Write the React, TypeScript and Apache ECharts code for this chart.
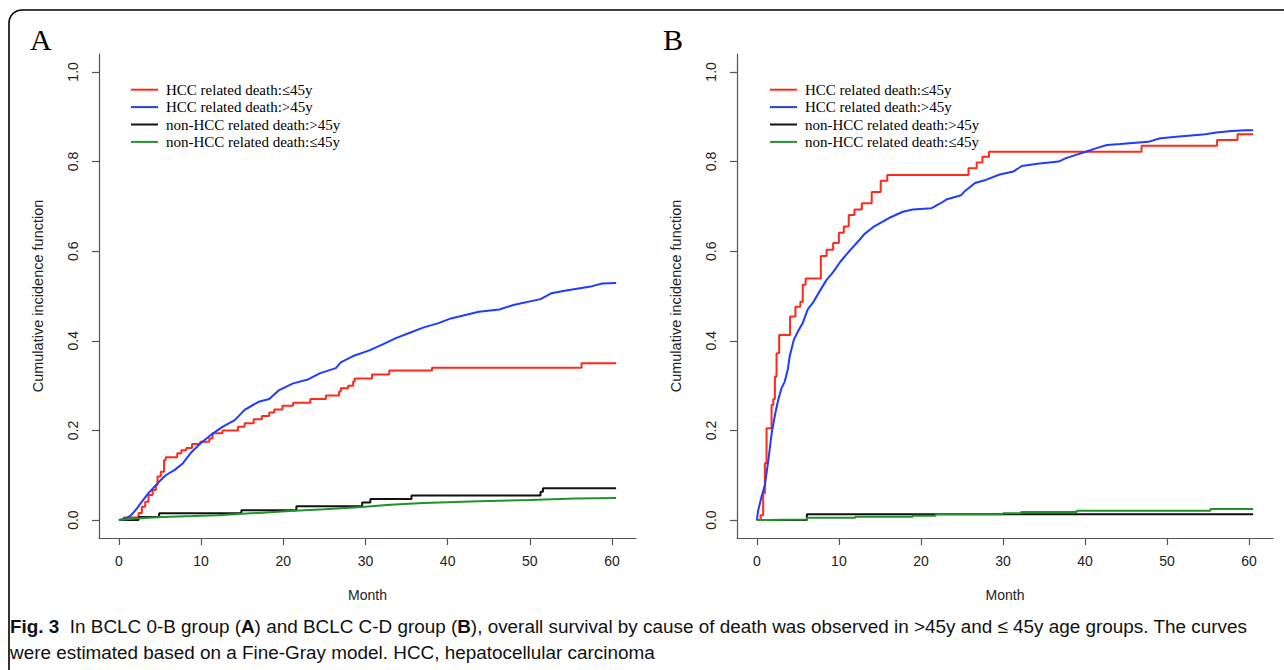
import React, { useEffect, useRef } from "react";
import * as echarts from "echarts";

// ---------- data ----------
const xTicks = [0, 10, 20, 30, 40, 50, 60];
const yTicks = [0, 0.2, 0.4, 0.6, 0.8, 1.0];
const seriesNames = [
  "HCC related death:≤45y",
  "HCC related death:>45y",
  "non-HCC related death:>45y",
  "non-HCC related death:≤45y",
];
const seriesColors = ["#ff2a1a", "#1f3cff", "#111111", "#23912a"];

// Panel A (BCLC 0-B)
const aRedT = [0, 0.6, 2.4, 2.8, 3.2, 3.6, 4.1, 4.5, 4.7, 5.1, 5.5, 5.7, 7.1, 7.6, 8.2, 8.9, 9.9, 11.0, 11.4, 12.6, 14.5, 15.3, 16.4, 17.4, 18.3, 18.9, 19.9, 21.2, 23.3, 25.2, 26.8, 27.0, 27.9, 28.5, 28.7, 30.8, 32.9, 38.1, 56.3, 60.5];
const aRedF = [0, 0.006, 0.016, 0.03, 0.041, 0.056, 0.067, 0.078, 0.097, 0.108, 0.134, 0.14, 0.149, 0.156, 0.161, 0.17, 0.175, 0.182, 0.194, 0.2, 0.208, 0.216, 0.225, 0.232, 0.24, 0.247, 0.255, 0.262, 0.27, 0.278, 0.287, 0.294, 0.3, 0.309, 0.316, 0.325, 0.334, 0.34, 0.35, 0.35];
const aBlueT = [0, 0.9, 1.5, 2.2, 2.8, 3.6, 4.7, 5.7, 6.8, 7.8, 8.7, 9.9, 11.2, 12.6, 14.1, 15.3, 17.0, 18.3, 19.5, 21.2, 22.9, 24.5, 26.4, 27.0, 28.5, 30.4, 32.1, 33.7, 35.4, 37.1, 38.8, 40.4, 43.8, 46.3, 48.0, 51.3, 52.6, 54.6, 57.6, 58.8, 60.5];
const aBlueF = [0, 0.004, 0.011, 0.026, 0.041, 0.06, 0.082, 0.1, 0.112, 0.127, 0.149, 0.171, 0.19, 0.208, 0.223, 0.246, 0.264, 0.27, 0.29, 0.305, 0.313, 0.328, 0.339, 0.352, 0.366, 0.378, 0.392, 0.406, 0.418, 0.43, 0.439, 0.45, 0.465, 0.47, 0.48, 0.493, 0.506, 0.513, 0.522, 0.528, 0.529];
const aBlackT = [0, 2.4, 4.9, 14.9, 21.6, 29.6, 30.6, 35.6, 51.3, 51.6, 60.5];
const aBlackF = [0, 0.007, 0.015, 0.022, 0.031, 0.039, 0.047, 0.055, 0.063, 0.071, 0.071];
const aGreenT = [0, 2.4, 5.3, 9.0, 12.0, 16.0, 20.8, 25.0, 29.6, 33.0, 37.1, 43.8, 50.0, 55.5, 60.5];
const aGreenF = [0, 0.004, 0.007, 0.009, 0.011, 0.015, 0.02, 0.024, 0.029, 0.034, 0.038, 0.042, 0.045, 0.048, 0.049];

// Panel B (BCLC C-D)
const bRedT = [0, 0.45, 0.77, 0.98, 1.18, 1.79, 2.0, 2.2, 2.4, 2.72, 4.05, 4.7, 5.3, 5.6, 5.95, 7.8, 8.5, 9.3, 10.0, 10.6, 11.2, 11.9, 12.8, 14.0, 15.1, 15.9, 25.8, 26.8, 27.5, 28.3, 46.9, 56.1, 58.6, 60.5];
const bRedF = [0, 0.011, 0.06, 0.127, 0.205, 0.257, 0.27, 0.32, 0.372, 0.413, 0.454, 0.476, 0.487, 0.525, 0.539, 0.589, 0.603, 0.618, 0.641, 0.655, 0.681, 0.693, 0.707, 0.732, 0.757, 0.77, 0.785, 0.798, 0.811, 0.822, 0.835, 0.848, 0.861, 0.861];
const bBlueT = [0, 0.17, 0.57, 0.98, 1.4, 1.8, 2.2, 2.6, 3.0, 3.4, 3.8, 4.0, 4.5, 5.1, 5.6, 6.2, 6.8, 7.7, 8.5, 9.2, 10.2, 11.4, 12.5, 13.1, 14.2, 16.1, 17.8, 19.0, 21.3, 22.4, 23.2, 24.9, 25.3, 26.6, 27.9, 29.6, 31.3, 32.3, 34.2, 36.8, 37.6, 38.9, 40.1, 41.4, 42.7, 44.3, 47.7, 49.2, 51.5, 54.7, 56.0, 57.9, 59.5, 60.5];
const bBlueF = [0, 0.022, 0.052, 0.078, 0.134, 0.193, 0.234, 0.268, 0.294, 0.309, 0.339, 0.365, 0.402, 0.424, 0.44, 0.47, 0.484, 0.512, 0.536, 0.551, 0.577, 0.603, 0.625, 0.638, 0.654, 0.674, 0.688, 0.693, 0.696, 0.707, 0.716, 0.725, 0.733, 0.752, 0.759, 0.771, 0.778, 0.79, 0.795, 0.8, 0.807, 0.815, 0.822, 0.83, 0.837, 0.839, 0.844, 0.852, 0.856, 0.861, 0.865, 0.868, 0.87, 0.87];
const bBlackT = [0, 6.1, 60.5];
const bBlackF = [0, 0.013, 0.013];
const bGreenT = [0, 1.2, 6.1, 12.0, 19.0, 21.8, 30.0, 32.2, 39.0, 55.3, 60.5];
const bGreenF = [0, 0.0015, 0.005, 0.0074, 0.0097, 0.013, 0.015, 0.018, 0.021, 0.0245, 0.0245];

const captionLine1 =
  "{b|Fig. 3}  In BCLC 0-B group ({b|A}) and BCLC C-D group ({b|B}), overall survival by cause of death was observed in >45y and ≤ 45y age groups. The curves";
const captionLine2 = "were estimated based on a Fine-Gray model. HCC, hepatocellular carcinoma";

// ---------- helpers ----------
const pairs = (t: number[], f: number[]) => t.map((v, i) => [v, f[i]]);
const SANS = "'Liberation Sans', Arial, sans-serif";
const SERIF = "'Liberation Serif', 'Times New Roman', serif";
const CAP = "'Liberation Sans', sans-serif";
const axisColor = "#555";

function makeX(gridIndex: number) {
  return {
    type: "value",
    gridIndex,
    min: -2.42,
    max: 62.92,
    name: "Month",
    nameLocation: "middle",
    nameGap: 50,
    nameTextStyle: { fontFamily: SANS, fontSize: 14, color: "#222" },
    axisLine: { show: true, onZero: false, lineStyle: { color: axisColor, width: 1.2 } },
    axisTick: { show: true, length: 7, customValues: xTicks, lineStyle: { color: axisColor, width: 1.2 } },
    axisLabel: { customValues: xTicks, margin: 16, fontFamily: SANS, fontSize: 14, color: "#222" },
    splitLine: { show: false },
  };
}
function makeY(gridIndex: number) {
  return {
    type: "value",
    gridIndex,
    min: -0.04,
    max: 1.04,
    name: "Cumulative incidence function",
    nameLocation: "middle",
    nameGap: 54,
    nameRotate: 90,
    nameTextStyle: { fontFamily: SANS, fontSize: 14.5, color: "#222" },
    axisLine: { show: true, onZero: false, lineStyle: { color: axisColor, width: 1.2 } },
    axisTick: { show: true, length: 7, customValues: yTicks, lineStyle: { color: axisColor, width: 1.2 } },
    axisLabel: {
      customValues: yTicks,
      rotate: 90,
      margin: 19,
      fontFamily: SANS,
      fontSize: 14,
      color: "#222",
      formatter: (v: number) => v.toFixed(1),
    },
    splitLine: { show: false },
  };
}
function line(idx: number, name: string, color: string, data: number[][], step: any) {
  return {
    type: "line",
    name,
    xAxisIndex: idx,
    yAxisIndex: idx,
    data,
    step,
    symbol: "none",
    showSymbol: false,
    color,
    lineStyle: { color, width: 2 },
    itemStyle: { color },
    silent: true,
  };
}

export default function App() {
  const ref = useRef<HTMLDivElement>(null);
  useEffect(() => {
    if (!ref.current) return;
    const chart = echarts.init(ref.current, undefined, { renderer: "svg" });
    const legend = [131, 770].map((left) => ({
      data: seriesNames,
      orient: "vertical",
      left,
      top: 81,
      padding: 0,
      itemWidth: 27,
      itemHeight: 2,
      itemGap: 0,
      icon: "rect",
      selectedMode: false,
      textStyle: { fontFamily: SERIF, fontSize: 15, color: "#000", lineHeight: 17.4, padding: [0, 0, 0, 3] },
    }));
    chart.setOption({
      animation: false,
      backgroundColor: "#fff",
      grid: [
        { left: 99, top: 54, width: 537, height: 484 },
        { left: 737, top: 54, width: 536, height: 484 },
      ],
      xAxis: [makeX(0), makeX(1)],
      yAxis: [makeY(0), makeY(1)],
      legend,
      series: [
        line(0, seriesNames[0], seriesColors[0], pairs(aRedT, aRedF), "end"),
        line(0, seriesNames[1], seriesColors[1], pairs(aBlueT, aBlueF), false),
        line(0, seriesNames[2], seriesColors[2], pairs(aBlackT, aBlackF), "end"),
        line(0, seriesNames[3], seriesColors[3], pairs(aGreenT, aGreenF), false),
        line(1, seriesNames[0], seriesColors[0], pairs(bRedT, bRedF), "end"),
        line(1, seriesNames[1], seriesColors[1], pairs(bBlueT, bBlueF), false),
        line(1, seriesNames[2], seriesColors[2], pairs(bBlackT, bBlackF), "end"),
        line(1, seriesNames[3], seriesColors[3], pairs(bGreenT, bGreenF), "end"),
      ],
      graphic: [
        {
          type: "rect",
          shape: { x: 9, y: 10, width: 1400, height: 800, r: [13, 0, 0, 0] },
          style: { fill: "none", stroke: "#000", lineWidth: 1.6 },
          silent: true,
        },
        {
          type: "text",
          style: { text: "A", x: 30, y: 39, fontFamily: SERIF, fontSize: 30, fill: "#000", verticalAlign: "middle" },
        },
        {
          type: "text",
          style: { text: "B", x: 663, y: 39, fontFamily: SERIF, fontSize: 30, fill: "#000", verticalAlign: "middle" },
        },
        {
          type: "text",
          style: {
            text: captionLine1,
            x: 10,
            y: 626,
            verticalAlign: "middle",
            fontFamily: CAP,
            fontSize: 18.9,
            fill: "#111",
            rich: { b: { fontFamily: CAP, fontSize: 18.9, fontWeight: "bold", fill: "#111" } },
          },
        },
        {
          type: "text",
          style: {
            text: captionLine2,
            x: 10,
            y: 652,
            verticalAlign: "middle",
            fontFamily: CAP,
            fontSize: 18.9,
            fill: "#111",
          },
        },
      ],
    });
    return () => chart.dispose();
  }, []);
  return (
    <div
      ref={ref}
      style={{ position: "absolute", left: 0, top: 0, width: 1284, height: 670, background: "#fff" }}
    />
  );
}
